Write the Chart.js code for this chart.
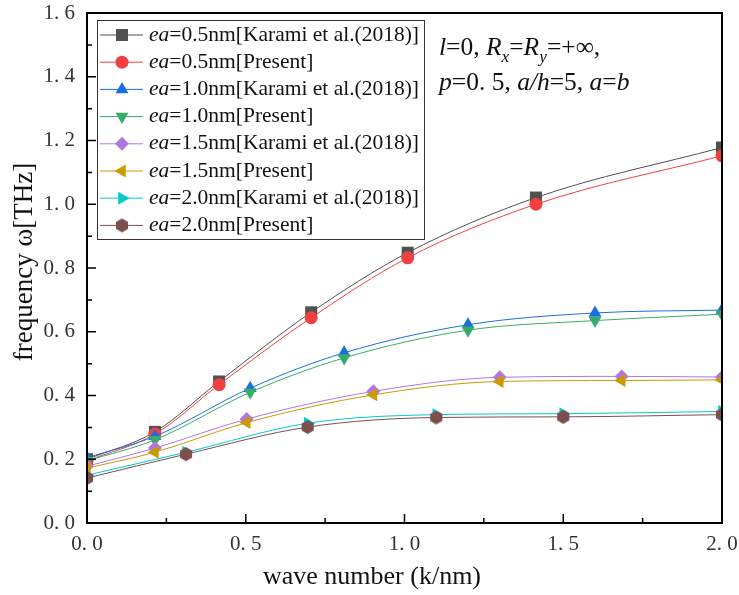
<!DOCTYPE html>
<html>
<head>
<meta charset="utf-8">
<script src="https://cdn.jsdelivr.net/npm/chart.js@4.4.1/dist/chart.umd.min.js"></script>
<style>
html, body { margin: 0; padding: 0; background: #fff; }
</style>
</head>
<body>
<canvas id="myChart" width="739" height="595"></canvas>
<script>
// wave numbers (k/nm) where markers sit, one list per nonlocal value
const k05 = [0, 0.214, 0.416, 0.706, 1.01, 1.414, 2.0];
const k10 = [0, 0.214, 0.514, 0.810, 1.200, 1.600, 2.0];
const k15 = [0, 0.214, 0.503, 0.902, 1.300, 1.684, 2.0];
const k20 = [0, 0.312, 0.695, 1.100, 1.500, 2.0];

// frequency (THz)
const karami05 = [0.200, 0.286, 0.444, 0.661, 0.848, 1.021, 1.178];
const present05 = [0.195, 0.279, 0.434, 0.644, 0.832, 1.000, 1.152];
const karami10 = [0.205, 0.272, 0.423, 0.534, 0.622, 0.659, 0.668];
const present10 = [0.195, 0.261, 0.410, 0.518, 0.605, 0.635, 0.655];
const karami15 = [0.178, 0.235, 0.326, 0.413, 0.457, 0.460, 0.458];
const present15 = [0.172, 0.222, 0.315, 0.402, 0.444, 0.447, 0.449];
const karami20 = [0.150, 0.222, 0.313, 0.340, 0.343, 0.350];
const present20 = [0.141, 0.216, 0.301, 0.331, 0.333, 0.340];

const seriesLabels = [
    '=0.5nm[Karami et al.(2018)]', '=0.5nm[Present]',
    '=1.0nm[Karami et al.(2018)]', '=1.0nm[Present]',
    '=1.5nm[Karami et al.(2018)]', '=1.5nm[Present]',
    '=2.0nm[Karami et al.(2018)]', '=2.0nm[Present]'
];
const xTitle = 'wave number (k/nm)';
const yTitle = 'frequency ω[THz]';

const colors = ['#515151', '#F14040', '#1A6FDF', '#37AD6B', '#B177DE', '#CC9900', '#00CBCC', '#7D4E4E'];
const FONT = '"Liberation Serif", "Times New Roman", serif';

function hexagon(color, r) {
    const c = document.createElement('canvas');
    c.width = c.height = 2 * r + 2;
    const g = c.getContext('2d');
    g.fillStyle = color;
    g.beginPath();
    for (let i = 0; i < 6; i++) {
        let a = -Math.PI / 2 + i * Math.PI / 3;
        g.lineTo(r + 1 + r * Math.cos(a), r + 1 + r * Math.sin(a));
    }
    g.closePath();
    g.fill();
    return c;
}

const markers = [
    {style: 'rect', rot: 0, r: 8.5},
    {style: 'circle', rot: 0, r: 6.5},
    {style: 'triangle', rot: 0, r: 7.5},
    {style: 'triangle', rot: 180, r: 7.5},
    {style: 'rectRot', rot: 0, r: 7},
    {style: 'triangle', rot: 270, r: 7.5},
    {style: 'triangle', rot: 90, r: 7.5},
    {style: hexagon(colors[7], 7), rot: 0, r: 7}
];

const xs = [k05, k05, k10, k10, k15, k15, k20, k20];
const ys = [karami05, present05, karami10, present10, karami15, present15, karami20, present20];

const datasets = ys.map((vals, i) => ({
    label: 'ea' + seriesLabels[i],
    data: vals.map((v, j) => ({x: xs[i][j], y: v})),
    showLine: true,
    cubicInterpolationMode: 'monotone',
    borderColor: colors[i],
    backgroundColor: colors[i],
    borderWidth: 1,
    pointStyle: markers[i].style,
    pointRotation: markers[i].rot,
    pointRadius: markers[i].r,
    pointBorderWidth: 0,
    clip: 0,
    order: 8 - i
}));

function drawRich(ctx, x, y, parts, size) {
    for (const p of parts) {
        let fs = p.sub ? size * 0.68 : size;
        ctx.font = (p.it ? 'italic ' : '') + fs + 'px ' + FONT;
        ctx.fillText(p.t, x, y + (p.sub ? size * 0.28 : 0));
        x += ctx.measureText(p.t).width;
    }
}

const framePlugin = {
    id: 'frame',
    afterDatasetsDraw(chart) {
        const {ctx, chartArea: a, scales: {x, y}} = chart;
        ctx.save();
        // box round the plot
        ctx.strokeStyle = '#000';
        ctx.lineWidth = 2;
        ctx.strokeRect(a.left, a.top, a.right - a.left, a.bottom - a.top);

        // inward ticks, major and minor
        ctx.lineWidth = 1.5;
        ctx.beginPath();
        const xt = x.ticks.map(t => t.value);
        for (let i = 0; i < xt.length; i++) {
            let px = x.getPixelForValue(xt[i]);
            ctx.moveTo(px, a.bottom); ctx.lineTo(px, a.bottom - 9);
            if (i < xt.length - 1) {
                let pm = x.getPixelForValue((xt[i] + xt[i + 1]) / 2);
                ctx.moveTo(pm, a.bottom); ctx.lineTo(pm, a.bottom - 5);
            }
        }
        const yt = y.ticks.map(t => t.value);
        for (let i = 0; i < yt.length; i++) {
            let py = y.getPixelForValue(yt[i]);
            ctx.moveTo(a.left, py); ctx.lineTo(a.left + 9, py);
            if (i < yt.length - 1) {
                let pm = y.getPixelForValue((yt[i] + yt[i + 1]) / 2);
                ctx.moveTo(a.left, pm); ctx.lineTo(a.left + 5, pm);
            }
        }
        ctx.stroke();

        // axis titles
        ctx.fillStyle = '#111';
        ctx.textAlign = 'center';
        ctx.textBaseline = 'middle';
        ctx.font = '26px ' + FONT;
        ctx.fillText(xTitle, 372, 577);
        ctx.save();
        ctx.translate(25, 262);
        ctx.rotate(-Math.PI / 2);
        ctx.font = '27px ' + FONT;
        ctx.fillText(yTitle, 0, 0);
        ctx.restore();
        ctx.textAlign = 'left';

        // legend
        const lx = a.left + 10, ly = a.top + 7, lw = 327, lh = 219, step = 27.2;
        ctx.fillStyle = '#fff';
        ctx.fillRect(lx, ly, lw, lh);
        ctx.strokeStyle = '#333';
        ctx.lineWidth = 1;
        ctx.strokeRect(lx + 0.5, ly + 0.5, lw, lh);
        chart.data.datasets.forEach((ds, i) => {
            let cy = ly + 15 + i * step;
            ctx.strokeStyle = ds.borderColor;
            ctx.beginPath();
            ctx.moveTo(lx + 3, cy); ctx.lineTo(lx + 46, cy);
            ctx.stroke();
            ctx.fillStyle = ds.backgroundColor;
            Chart.helpers.drawPoint(ctx, {
                pointStyle: ds.pointStyle, rotation: ds.pointRotation,
                radius: ds.pointRadius, borderWidth: 0
            }, lx + 25, cy);
            ctx.fillStyle = '#111';
            drawRich(ctx, lx + 52, cy, [{t: 'ea', it: true}, {t: seriesLabels[i]}], 21.5);
        });

        // parameter note
        ctx.textBaseline = 'alphabetic';
        ctx.fillStyle = '#111';
        drawRich(ctx, 439, 55, [
            {t: 'l', it: true}, {t: '=0, '}, {t: 'R', it: true}, {t: 'x', it: true, sub: true},
            {t: '='}, {t: 'R', it: true}, {t: 'y', it: true, sub: true}, {t: '=+∞,'}
        ], 25.5);
        drawRich(ctx, 439, 90, [
            {t: 'p', it: true}, {t: '=0. 5, '}, {t: 'a/h', it: true}, {t: '=5, '},
            {t: 'a', it: true}, {t: '='}, {t: 'b', it: true}
        ], 25.5);
        ctx.restore();
    }
};

const ctx = document.getElementById('myChart');

new Chart(ctx, {
    type: 'scatter',
    data: {datasets: datasets},
    options: {
        responsive: false,
        animation: false,
        events: [],
        layout: {padding: {top: 13, right: 17, left: 0, bottom: 0}},
        plugins: {
            legend: {display: false},
            tooltip: {enabled: false}
        },
        scales: {
            x: {
                type: 'linear',
                min: 0,
                max: 2,
                ticks: {
                    stepSize: 0.5,
                    padding: 9,
                    color: '#333',
                    font: {family: FONT, size: 21},
                    callback: (v) => v.toFixed(1).replace('.', '. ')
                },
                grid: {display: false, drawTicks: false},
                border: {display: false},
                afterFit(s) { s.height = 72; s.paddingLeft = 0; s.paddingRight = 0; }
            },
            y: {
                min: 0,
                max: 1.6,
                ticks: {
                    stepSize: 0.2,
                    padding: 12,
                    color: '#333',
                    font: {family: FONT, size: 21},
                    callback: (v) => v.toFixed(1).replace('.', '. ')
                },
                grid: {display: false, drawTicks: false},
                border: {display: false},
                afterFit(s) { s.width = 87; s.paddingTop = 0; s.paddingBottom = 0; }
            }
        }
    },
    plugins: [framePlugin]
});
</script>
</body>
</html>
